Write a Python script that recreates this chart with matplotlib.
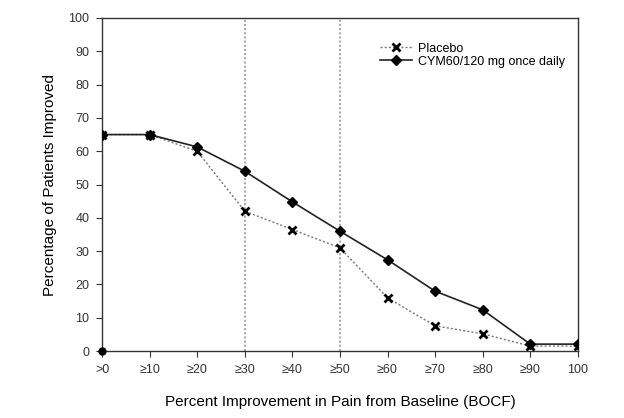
import numpy as np
import matplotlib
matplotlib.use("Agg")
import matplotlib.pyplot as plt

plt.rcParams['font.family'] = ['Liberation Sans', 'DejaVu Sans']

categories = [">0", "≥10", "≥20", "≥30", "≥40", "≥50", "≥60", "≥70", "≥80", "≥90", "100"]
placebo = [65, 65, 60, 42, 36.5, 31, 16, 7.6, 5.2, 1.5, 1.5]
cym = [65, 65, 61.3, 54, 44.8, 36, 27.4, 18, 12.4, 2.1, 2.1]
ref_lines = ["≥30", "≥50"]
yticks = list(range(0, 101, 10))

fig = plt.figure(figsize=(6.24, 4.18), dpi=100)
ax = fig.add_axes([0.1635, 0.160, 0.7625, 0.797])

x = np.arange(len(categories))

for c in ref_lines:
    ax.axvline(categories.index(c), color="#aaaaaa", linestyle=(0, (1, 1)), linewidth=1.5, zorder=1)

ax.plot(x, placebo, color="#777777", linestyle=(0, (1.5, 1.5)), linewidth=1.0,
        marker="x", markersize=5.5, markeredgewidth=2, markeredgecolor="black",
        label="Placebo", zorder=3)
ax.plot(x, cym, color="#222222", linestyle="-", linewidth=1.2,
        marker="D", markersize=5.5, markerfacecolor="black", markeredgecolor="black",
        label="CYM60/120 mg once daily", zorder=4)
# origin dot
ax.plot([0], [0], marker="o", markersize=5, color="black", linestyle="none", zorder=5, clip_on=False)

ax.set_xlim(0, len(categories) - 1)
ax.set_ylim(0, 100)
ax.set_xticks(x)
ax.set_xticklabels(categories)
ax.set_yticks(yticks)
ax.tick_params(axis="both", direction="out", length=4, labelsize=9, colors="#333333", pad=5)
for s in ax.spines.values():
    s.set_color("#333333")
    s.set_linewidth(1.0)

ax.set_xlabel("Percent Improvement in Pain from Baseline (BOCF)", fontsize=11, labelpad=14)
ax.set_ylabel("Percentage of Patients Improved", fontsize=11, labelpad=8)

leg = ax.legend(loc="upper left", bbox_to_anchor=(0.56, 0.96), frameon=False, fontsize=9,
                handlelength=2.6, handletextpad=0.5, labelspacing=0.1)

fig.savefig("out.png", dpi=100)
